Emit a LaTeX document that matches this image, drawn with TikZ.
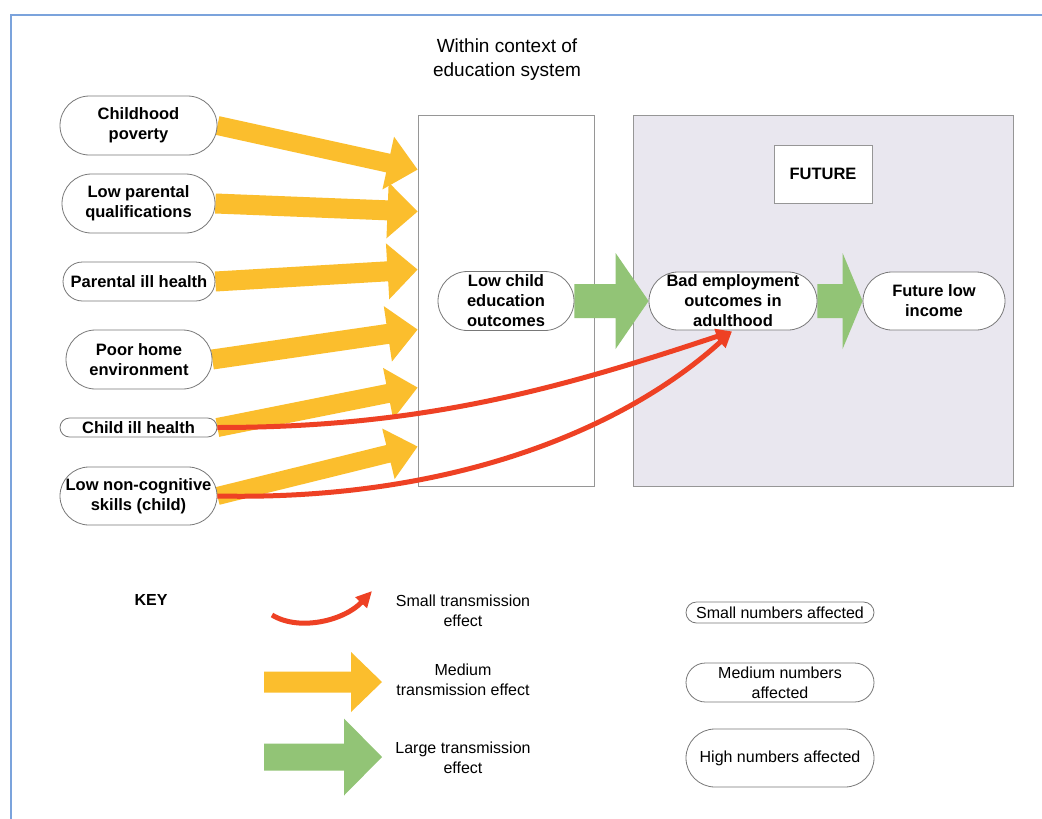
\documentclass[tikz,border=0pt]{standalone}
\usepackage{fontspec}
\setmainfont{Liberation Sans}
\usetikzlibrary{calc,arrows.meta}
\definecolor{framecol}{RGB}{123,163,220}
\definecolor{boxgrey}{RGB}{150,150,150}
\definecolor{nodegrey}{RGB}{120,120,120}
\definecolor{futfill}{RGB}{233,231,239}
\definecolor{orangecol}{RGB}{251,190,45}
\definecolor{greencol}{RGB}{146,196,118}
\definecolor{redcol}{RGB}{238,65,36}
\pgfdeclarelayer{bg}
\pgfdeclarelayer{arr}
\pgfsetlayers{bg,arr,main}
\newcommand\fatarrow[6]{% #1 colour, #2 from, #3 to, #4 half shaft, #5 half head, #6 head length
  \coordinate (fab) at ($(#3)!#6!(#2)$);
  \fill[#1] ($(#2)!#4!90:(#3)$) -- ($(fab)!#4!90:(#3)$) -- ($(fab)!#5!90:(#3)$) -- (#3)
    -- ($(fab)!#5!-90:(#3)$) -- ($(fab)!#4!-90:(#3)$) -- ($(#2)!#4!-90:(#3)$) -- cycle;}
\begin{document}
\begin{tikzpicture}[x=1pt,y=-1pt,
  nodefont/.style={font=\fontsize{16.5}{20}\selectfont\bfseries},
  keyfont/.style={font=\fontsize{16}{20}\selectfont},
  pill/.style 2 args={draw=nodegrey, line width=0.8pt, fill=white, minimum width=#1,
    minimum height=#2, rounded corners=#2/2, inner sep=0pt, align=center},
  plainbox/.style={draw=boxgrey, line width=0.9pt},
  smallarrow/.style={draw=redcol, line width=5pt, -{Triangle[length=16pt,width=15pt]}}]
\useasboundingbox (0,0) rectangle (1042,819);
\begin{pgfonlayer}{bg}
  \fill[white] (0,0) rectangle (1042,819);
  \draw[framecol, line width=1.5pt] (11,15) rectangle (1060,840);
  \node[plainbox, minimum width=176pt, minimum height=371pt, inner sep=0pt] (edu) at (506,300.5) {};
  \node[plainbox, fill=futfill, minimum width=380pt, minimum height=371pt, inner sep=0pt] (fut) at (823,300.5) {};
\end{pgfonlayer}
\node[plainbox, fill=white, minimum width=98pt, minimum height=58pt, inner sep=0pt, nodefont] (futlab) at (823,174) {FUTURE};
\node[align=center, font=\fontsize{19}{24}\selectfont] (title) at (507,60) {Within context of\\education system};
% left nodes
\node[pill={157pt}{59pt}, nodefont] (cp) at (138.5,125.5) {Childhood\\poverty};
\node[pill={153pt}{59pt}, nodefont] (lpq) at (138.5,203.5) {Low parental\\qualifications};
\node[pill={152pt}{39pt}, nodefont] (pih) at (139,281.5) {Parental ill health};
\node[pill={146pt}{59pt}, nodefont] (phe) at (139,359.5) {Poor home\\environment};
\node[pill={157pt}{19pt}, nodefont] (cih) at (138.5,427.5) {Child ill health};
\node[pill={157pt}{58pt}, nodefont] (lnc) at (138.5,496) {Low non-cognitive\\skills (child)};
% middle and right nodes
\node[pill={136pt}{59pt}, nodefont] (lce) at (506,301) {Low child\\education\\outcomes};
\node[pill={168pt}{58pt}, nodefont] (be) at (733,301) {Bad employment\\outcomes in\\adulthood};
\node[pill={142pt}{58pt}, nodefont] (fli) at (934,301) {Future low\\income};
% tips on education box
\coordinate (t1) at ($(edu.north west)+(0,55)$);
\coordinate (t2) at ($(edu.north west)+(0,97)$);
\coordinate (t3) at ($(edu.north west)+(0,155)$);
\coordinate (t4) at ($(edu.north west)+(0,215)$);
\coordinate (t5) at ($(edu.north west)+(0,273)$);
\coordinate (t6) at ($(edu.north west)+(0,332)$);
\begin{pgfonlayer}{arr}
  \fatarrow{orangecol}{cp.east}{t1}{9.5pt}{27pt}{30pt}
  \fatarrow{orangecol}{lpq.east}{t2}{10pt}{28pt}{30pt}
  \fatarrow{orangecol}{pih.east}{t3}{10pt}{28pt}{30pt}
  \fatarrow{orangecol}{phe.east}{t4}{10pt}{28pt}{30pt}
  \fatarrow{orangecol}{cih.east}{t5}{9.5pt}{26pt}{30pt}
  \fatarrow{orangecol}{lnc.east}{t6}{9pt}{26pt}{30pt}
  \fatarrow{greencol}{lce.east}{be.west}{17pt}{48pt}{33pt}
  \fatarrow{greencol}{be.east}{fli.west}{17pt}{48pt}{20pt}
\end{pgfonlayer}
% small transmission effects
\draw[smallarrow] (cih.east) .. controls +(200,0) and +(-180,60) .. ($(be.south)+(-1,1)$);
\draw[smallarrow] (lnc.east) .. controls +(230,5) and +(-110,100) .. ($(be.south)+(-1,1)$);
% KEY
\node[font=\fontsize{16}{20}\selectfont\bfseries] (key) at (151,600) {KEY};
\coordinate (k1s) at (272,615);
\coordinate (k1e) at (372,591);
\draw[smallarrow] (k1s) .. controls (300,632) and (345,620) .. (k1e);
\coordinate (k2s) at (264,682);
\coordinate (k2e) at (382,682);
\fatarrow{orangecol}{k2s}{k2e}{10.5pt}{30pt}{31pt}
\coordinate (k3s) at (264,757);
\coordinate (k3e) at (382,757);
\fatarrow{greencol}{k3s}{k3e}{13.5pt}{38.5pt}{38pt}
\node[align=center, keyfont] (l1) at (463,611) {Small transmission\\effect};
\node[align=center, keyfont] (l2) at (463,680) {Medium\\transmission effect};
\node[align=center, keyfont] (l3) at (463,758) {Large transmission\\effect};
\node[pill={188pt}{21pt}, keyfont] (s1) at (780,612.5) {Small numbers affected};
\node[pill={188pt}{39pt}, keyfont] (s2) at (780,682.5) {Medium numbers\\affected};
\node[pill={188pt}{58pt}, keyfont] (s3) at (780,758) {High numbers affected};
\end{tikzpicture}
\end{document}
